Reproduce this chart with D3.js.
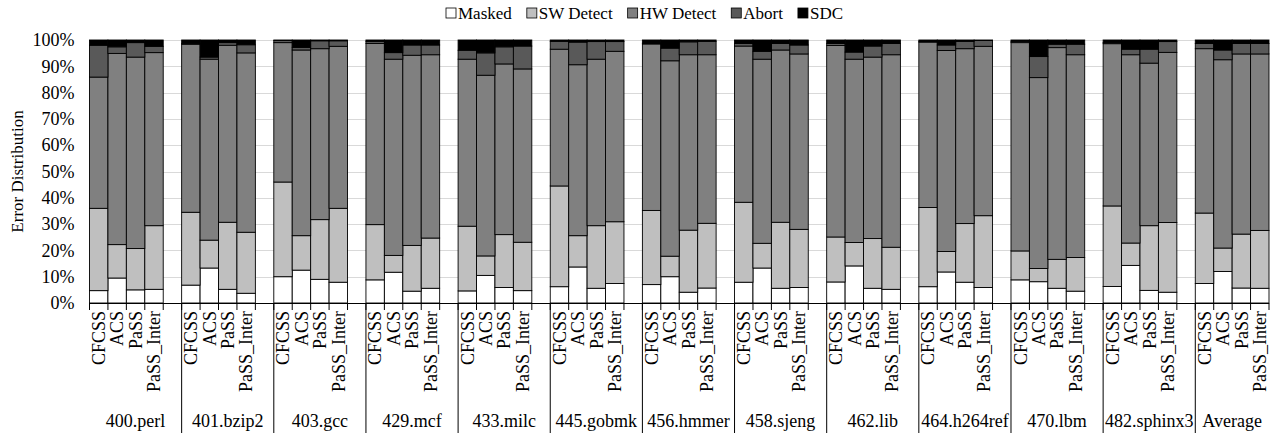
<!DOCTYPE html>
<html>
<head>
<meta charset="utf-8">
<script src="https://cdn.jsdelivr.net/npm/d3@7"></script>
<style>
  body { margin: 0; background: #fff; }
  svg text { font-family: "Liberation Serif", "Times New Roman", serif; fill: #000; }
</style>
</head>
<body>
<div id="vis"></div>
<script>
// benchmarks and schemes
var groups = ["400.perl", "401.bzip2", "403.gcc", "429.mcf", "433.milc", "445.gobmk", "456.hmmer",
  "458.sjeng", "462.lib", "464.h264ref", "470.lbm", "482.sphinx3", "Average"];
var schemes = ["CFCSS", "ACS", "PaSS", "PaSS_Inter"];
var seriesNames = ["Masked", "SW Detect", "HW Detect", "Abort", "SDC"];
var seriesColors = ["#ffffff", "#bfbfbf", "#808080", "#595959", "#000000"];
var yTicks = [0, 10, 20, 30, 40, 50, 60, 70, 80, 90, 100];

// % of errors, 4 values per benchmark (CFCSS, ACS, PaSS, PaSS_Inter)
var masked = [
  4.7, 9.5, 5.0, 5.2,   6.8, 13.3, 5.2, 3.7,   10.0, 12.5, 9.0, 7.9,   8.8, 11.7, 4.5, 5.6,
  4.6, 10.5, 5.9, 4.7,  6.2, 13.7, 5.6, 7.4,   7.0, 10.0, 4.1, 5.7,    7.9, 13.3, 5.6, 5.9,
  8.0, 14.1, 5.6, 5.2,  6.2, 11.8, 7.9, 5.9,   8.8, 8.1, 5.6, 4.5,     6.3, 14.3, 4.8, 4.1,
  7.4, 12.0, 5.7, 5.6];
var swDetect = [
  31.3, 12.7, 15.7, 24.2,  27.7, 10.6, 25.5, 23.2,  36.0, 13.1, 22.7, 28.1,  21.0, 6.4, 17.4, 19.1,
  24.6, 7.4, 20.1, 18.4,   38.3, 11.9, 23.8, 23.5,  28.2, 7.8, 23.6, 24.6,   30.4, 9.4, 25.1, 22.1,
  17.1, 8.9, 18.9, 16.0,   30.1, 7.8, 22.3, 27.3,   11.0, 5.0, 11.0, 12.8,   30.6, 8.5, 24.6, 26.5,
  26.8, 8.9, 20.5, 22.0];
var hwDetect = [
  49.9, 72.7, 72.8, 65.8,  63.9, 68.8, 67.3, 68.2,  53.0, 70.6, 65.0, 61.6,  68.9, 74.6, 72.3, 69.7,
  63.5, 68.7, 64.9, 65.9,  52.0, 65.0, 63.3, 64.8,  63.3, 74.3, 66.7, 64.1,  59.4, 70.0, 65.5, 66.7,
  72.8, 69.7, 69.0, 73.2,  62.9, 76.4, 66.5, 64.4,  79.2, 72.6, 80.5, 77.1,  61.7, 71.6, 61.8, 64.7,
  62.5, 71.6, 68.5, 67.1];
var abort = [
  12.1, 2.5, 5.5, 2.4,  0.2, 0.8, 1.0, 3.1,  0.8, 1.0, 3.0, 2.1,  0.8, 2.5, 3.9, 3.7,
  3.4, 8.5, 6.5, 8.7,   3.0, 8.6, 6.7, 3.7,  0.3, 4.8, 4.9, 5.1,  1.0, 3.0, 2.5, 3.4,
  0.8, 2.7, 4.2, 4.3,   0.3, 2.1, 2.8, 2.2,  0.5, 8.0, 1.3, 4.0,  0.4, 2.1, 5.3, 4.1,
  2.0, 3.7, 4.0, 4.0];
var sdc = [
  2.0, 2.6, 1.0, 2.4,  1.4, 6.5, 1.0, 1.8,  0.2, 2.8, 0.3, 0.3,  0.5, 4.8, 1.9, 1.9,
  3.9, 4.9, 2.6, 2.3,  0.5, 0.8, 0.6, 0.6,  1.2, 3.1, 0.7, 0.5,  1.3, 4.3, 1.3, 1.9,
  1.3, 4.6, 2.3, 1.3,  0.5, 1.9, 0.5, 0.2,  0.5, 6.3, 1.6, 1.6,  1.0, 3.5, 3.5, 0.6,
  1.3, 3.8, 1.3, 1.3];

var seriesValues = [masked, swDetect, hwDetect, abort, sdc];

// build rows for stacking
var rows = [];
groups.forEach(function(g, gi) {
  schemes.forEach(function(s, si) {
    var i = gi * 4 + si;
    var row = { key: g + "|" + s, group: g, scheme: s };
    seriesNames.forEach(function(n, k) { row[n] = seriesValues[k][i]; });
    rows.push(row);
  });
});

// category slots: 4 bars + one blank per group (no blank after last)
var slots = [];
groups.forEach(function(g, gi) {
  schemes.forEach(function(s) { slots.push(g + "|" + s); });
  if (gi < groups.length - 1) slots.push(g + "|gap");
});

var W = 1270, H = 433;
var plotLeft = 89.5, plotRight = 1269, plotTop = 40, plotBottom = 303;

var svg = d3.select("#vis").append("svg")
  .attr("width", W)
  .attr("height", H);

var x = d3.scaleBand().domain(slots).range([plotLeft, plotRight]).padding(0);
var y = d3.scaleLinear().domain([0, 100]).range([plotBottom, plotTop]);

// gridlines
svg.append("g")
  .selectAll("line")
  .data(yTicks)
  .enter().append("line")
    .attr("x1", plotLeft).attr("x2", plotRight)
    .attr("y1", function(d) { return Math.round(y(d)) + 0.5; })
    .attr("y2", function(d) { return Math.round(y(d)) + 0.5; })
    .attr("stroke", "#d9d9d9")
    .attr("stroke-width", 1);

// y axis labels
var yAxis = svg.append("g")
  .attr("transform", "translate(" + plotLeft + ",0)")
  .call(d3.axisLeft(y).tickValues(yTicks).tickFormat(function(d) { return d + "%"; }).tickSize(0).tickPadding(15));
yAxis.select(".domain").remove();
yAxis.selectAll("text").style("font-size", "18px").style("font-family", "Liberation Serif");

// stacked bars
var stack = d3.stack().keys(seriesNames);
var layers = stack(rows);

svg.append("g")
  .selectAll("g")
  .data(layers)
  .enter().append("g")
    .attr("fill", function(d, i) { return seriesColors[i]; })
  .selectAll("rect")
  .data(function(d) { return d; })
  .enter().append("rect")
    .attr("x", function(d) { return x(d.data.key); })
    .attr("width", x.bandwidth())
    .attr("y", function(d) { return y(d[1]); })
    .attr("height", function(d) { return y(d[0]) - y(d[1]); })
    .attr("stroke", "#000")
    .attr("stroke-width", 0.9);

// x axis line and ticks
svg.append("line")
  .attr("x1", plotLeft).attr("x2", plotRight)
  .attr("y1", plotBottom + 0.5).attr("y2", plotBottom + 0.5)
  .attr("stroke", "#000").attr("stroke-width", 1.2);

var bounds = slots.map(function(s) { return x(s); }).concat([plotRight]);
svg.append("g")
  .selectAll("line")
  .data(bounds)
  .enter().append("line")
    .attr("x1", function(d) { return d; }).attr("x2", function(d) { return d; })
    .attr("y1", plotBottom).attr("y2", plotBottom + 7)
    .attr("stroke", "#000").attr("stroke-width", 1);

// group separators
var groupStart = groups.map(function(g) { return x(g + "|CFCSS"); });
svg.append("g")
  .selectAll("line")
  .data(groupStart.slice(1))
  .enter().append("line")
    .attr("x1", function(d) { return d; }).attr("x2", function(d) { return d; })
    .attr("y1", plotBottom).attr("y2", H)
    .attr("stroke", "#000").attr("stroke-width", 1);

// scheme labels (rotated)
svg.append("g")
  .selectAll("text")
  .data(rows)
  .enter().append("text")
    .attr("transform", function(d) {
      return "translate(" + (x(d.key) + x.bandwidth() / 2) + "," + (plotBottom + 8) + ") rotate(-90)";
    })
    .attr("text-anchor", "end")
    .attr("dy", "0.35em")
    .style("font-size", "18px")
    .text(function(d) { return d.scheme; });

// group labels
svg.append("g")
  .selectAll("text")
  .data(groups)
  .enter().append("text")
    .attr("x", function(g, i) {
      var end = i < groups.length - 1 ? groupStart[i + 1] : plotRight;
      return (groupStart[i] + end) / 2;
    })
    .attr("y", 427)
    .attr("text-anchor", "middle")
    .style("font-size", "18px")
    .text(function(d) { return d; });

// y title
svg.append("text")
  .attr("transform", "translate(17," + ((plotTop + plotBottom) / 2) + ") rotate(-90)")
  .attr("text-anchor", "middle")
  .attr("dy", "0.35em")
  .style("font-size", "17px")
  .text("Error Distribution");

// legend
var legend = svg.append("g").attr("transform", "translate(0,13)");
var lx = 446;
seriesNames.forEach(function(n, i) {
  legend.append("rect")
    .attr("x", lx).attr("y", -5)
    .attr("width", 10).attr("height", 10)
    .attr("fill", seriesColors[i])
    .attr("stroke", "#000").attr("stroke-width", 0.8);
  var t = legend.append("text")
    .attr("x", lx + 12).attr("y", 0)
    .attr("dy", "0.35em")
    .style("font-size", "17px")
    .text(n);
  lx += 12 + t.node().getComputedTextLength() + 15;
});
</script>
</body>
</html>
